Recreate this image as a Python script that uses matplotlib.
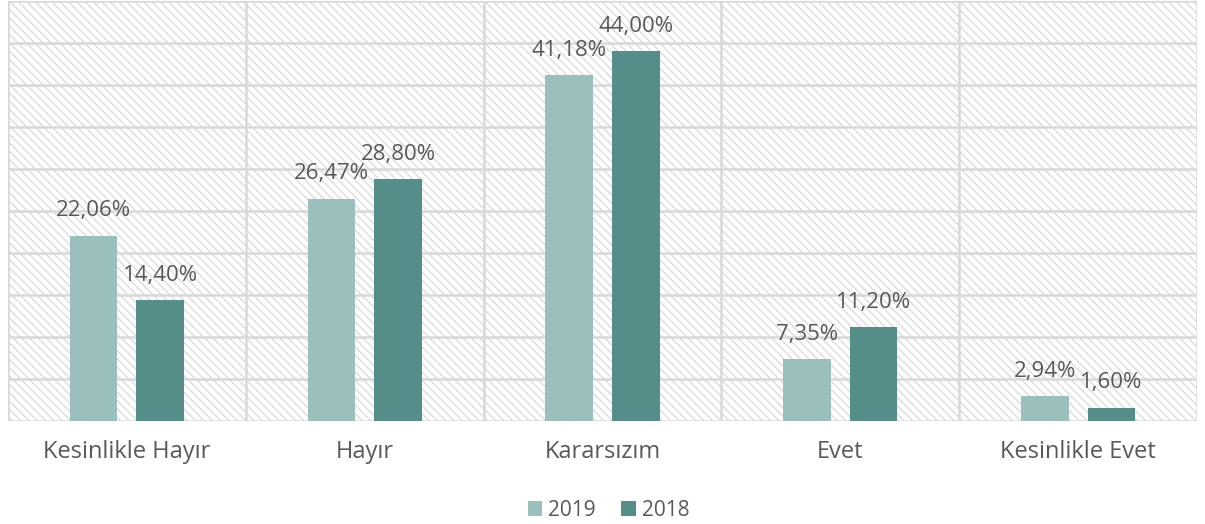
import matplotlib
matplotlib.use("Agg")
import matplotlib.pyplot as plt
import numpy as np
from matplotlib.patches import Rectangle

categories = ["Kesinlikle Hayır", "Hayır", "Kararsızım", "Evet", "Kesinlikle Evet"]
series_names = ["2019", "2018"]
values_2019 = [22.06, 26.47, 41.18, 7.35, 2.94]
values_2018 = [14.40, 28.80, 44.00, 11.20, 1.60]
colors = ["#9bbfbc", "#558e89"]

plt.rcParams['font.family'] = ['Open Sans', 'DejaVu Sans']
plt.rcParams['hatch.color'] = '#e0e0e0'
plt.rcParams['hatch.linewidth'] = 0.9
text_color = "#595959"
grid_color = "#d9d9d9"

fig = plt.figure(figsize=(12.05, 5.24), dpi=100)
ax = fig.add_axes([8/1205, 103/524, 1189/1205, 420/524])

ax.set_xlim(0, len(categories))
ax.set_ylim(0, 50)

# hatched background
ax.add_patch(Rectangle((0, 0), 1, 1, transform=ax.transAxes, facecolor='white',
                       edgecolor=grid_color, hatch='\\' * 4, linewidth=0, zorder=0))

for y in np.arange(0, 51, 5):
    ax.axhline(y, color=grid_color, lw=1.8, zorder=1)
for x in range(len(categories) + 1):
    ax.axvline(x, color=grid_color, lw=1.8, zorder=1)

x = np.arange(len(categories)) + 0.5
w = 0.2
off = 0.14
for vals, c, name, o in [(values_2019, colors[0], series_names[0], -off),
                         (values_2018, colors[1], series_names[1], off)]:
    ax.bar(x + o, vals, width=w, color=c, label=name, zorder=2)
    for xi, v in zip(x + o, vals):
        ax.text(xi, v + 1.7, f"{v:.2f}".replace('.', ',') + "%", ha='center', va='bottom',
                fontsize=16, color=text_color, zorder=3)

ax.set_xticks(x)
ax.set_xticklabels(categories, fontsize=17, color=text_color)
ax.tick_params(axis='x', length=0, pad=14)
ax.set_yticks([])
for s in ax.spines.values():
    s.set_visible(False)

leg = fig.legend(loc='lower center', bbox_to_anchor=(0.505, -0.03), ncol=2, frameon=False,
                 fontsize=15, handlelength=0.7, handleheight=0.7, columnspacing=1.2,
                 handletextpad=0.3)
for t in leg.get_texts():
    t.set_color(text_color)

fig.savefig("out.png", dpi=100)
